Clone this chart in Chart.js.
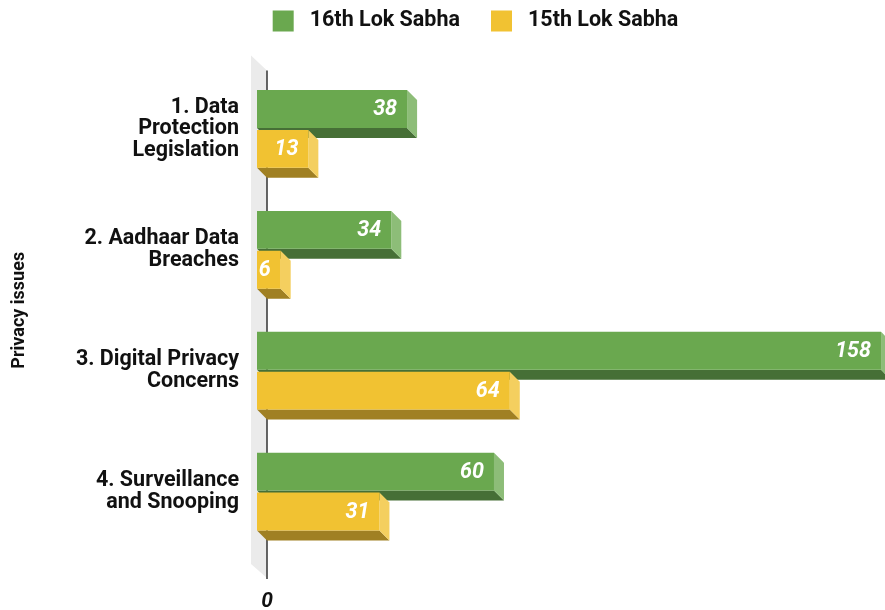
<!DOCTYPE html>
<html><head><meta charset="utf-8">
<script src="https://cdn.jsdelivr.net/npm/chart.js@4.4.0/dist/chart.umd.min.js"></script>
<style>html,body{margin:0;padding:0;background:#fff}#wrap{width:885px;height:610px;position:relative}</style>
</head><body><div id="wrap"><canvas id="c"></canvas></div>
<script>
const categories = [["1. Data","Protection","Legislation"],["2. Aadhaar Data","Breaches"],["3. Digital Privacy","Concerns"],["4. Surveillance","and Snooping"]];
const seriesNames = ["16th Lok Sabha","15th Lok Sabha"];
const lok16 = [38, 34, 158, 60];
const lok15 = [13, 6, 64, 31];
const xTicks = [0];
const yTitle = "Privacy issues";

const frontColors = ['#6aa84f', '#f1c232'];
const sideColors = ['#8dbd78', '#f4cf5f'];
const bottomColors = ['#466f36', '#a08023'];
const DEPTH = 10;
const FONT = 'Roboto';

const threeD = {
  id: 'threeD',
  beforeDatasetsDraw(chart) {
    const ctx = chart.ctx;
    const {left, top, bottom} = chart.chartArea;
    ctx.save();
    ctx.fillStyle = '#ebebeb';
    ctx.beginPath();
    ctx.moveTo(left - 6, top - 13);
    ctx.lineTo(left + DEPTH, top + 2);
    ctx.lineTo(left + DEPTH, bottom + 26);
    ctx.lineTo(left - 6, bottom + 12);
    ctx.closePath();
    ctx.fill();
    ctx.strokeStyle = '#333';
    ctx.lineWidth = 1.5;
    ctx.beginPath();
    ctx.moveTo(left + DEPTH, top + 2);
    ctx.lineTo(left + DEPTH, bottom + 27);
    ctx.stroke();
    chart.data.datasets.forEach((ds, di) => {
      const meta = chart.getDatasetMeta(di);
      meta.data.forEach(el => {
        const p = el.getProps(['x', 'y', 'base', 'height'], true);
        const y0 = p.y - p.height / 2, y1 = p.y + p.height / 2;
        const x0 = p.base, x1 = p.x;
        ctx.fillStyle = bottomColors[di];
        ctx.beginPath();
        ctx.moveTo(x0, y1); ctx.lineTo(x1, y1); ctx.lineTo(x1 + DEPTH, y1 + DEPTH); ctx.lineTo(x0 + DEPTH, y1 + DEPTH);
        ctx.closePath(); ctx.fill();
        ctx.fillStyle = sideColors[di];
        ctx.beginPath();
        ctx.moveTo(x1, y0); ctx.lineTo(x1 + DEPTH, y0 + DEPTH); ctx.lineTo(x1 + DEPTH, y1 + DEPTH); ctx.lineTo(x1, y1);
        ctx.closePath(); ctx.fill();
      });
    });
    ctx.restore();
  },
  afterDatasetsDraw(chart) {
    const ctx = chart.ctx;
    ctx.save();
    ctx.font = 'italic bold 21.5px ' + FONT;
    ctx.fillStyle = '#ffffff';
    ctx.textAlign = 'right';
    ctx.textBaseline = 'middle';
    chart.data.datasets.forEach((ds, di) => {
      const meta = chart.getDatasetMeta(di);
      meta.data.forEach((el, i) => {
        const p = el.getProps(['x', 'y'], true);
        ctx.fillText(String(ds.data[i]), p.x - 10, p.y + 1);
      });
    });
    ctx.restore();
  },
  afterDraw(chart) {
    const ctx = chart.ctx;
    ctx.save();
    ctx.font = 'bold 21.5px ' + FONT;
    ctx.textBaseline = 'middle';
    ctx.textAlign = 'left';
    const box = 21, gap = 16, sep = 31;
    const items = chart.data.datasets.map(d => ({text: d.label, color: d.backgroundColor, w: ctx.measureText(d.label).width}));
    const total = items.reduce((s, it) => s + box + gap + it.w, 0) + sep * (items.length - 1);
    let x = chart.width / 2 + 33 - total / 2;
    const cy = 21;
    items.forEach(it => {
      ctx.fillStyle = it.color;
      ctx.fillRect(x, cy - box / 2, box, box);
      ctx.fillStyle = '#111';
      ctx.fillText(it.text, x + box + gap, cy);
      x += box + gap + it.w + sep;
    });
    ctx.restore();
  }
};

new Chart(document.getElementById('c'), {
  type: 'bar',
  data: {
    labels: categories,
    datasets: [
      {label: seriesNames[0], data: lok16, backgroundColor: frontColors[0]},
      {label: seriesNames[1], data: lok15, backgroundColor: frontColors[1]}
    ]
  },
  options: {
    indexAxis: 'y',
    responsive: true,
    maintainAspectRatio: false,
    animation: false,
    categoryPercentage: 0.66,
    barPercentage: 0.95,
    layout: {padding: {top: 68.5, left: 0, right: 0, bottom: 0}},
    plugins: {legend: {display: false}, tooltip: {enabled: false}},
    scales: {
      x: {
        type: 'linear', min: 0, max: 159,
        afterBuildTicks: s => { s.ticks = xTicks.map(v => ({value: v})); },
        afterFit: s => { s.height = 58; },
        grid: {display: false, drawTicks: false},
        border: {display: false},
        ticks: {font: {family: FONT, size: 21, weight: 'bold', style: 'italic'}, color: '#111', labelOffset: 10, padding: 37, maxRotation: 0}
      },
      y: {
        afterFit: s => { s.width = 257; },
        grid: {display: false, drawTicks: false},
        border: {display: false},
        ticks: {font: {family: FONT, size: 21.5, weight: 'bold', lineHeight: 1.0}, color: '#111', padding: 18},
        title: {display: true, text: yTitle, font: {family: FONT, size: 18, weight: 'bold'}, color: '#111', padding: {top: 9, bottom: 0}}
      }
    }
  },
  plugins: [threeD]
});
</script>
</body></html>
